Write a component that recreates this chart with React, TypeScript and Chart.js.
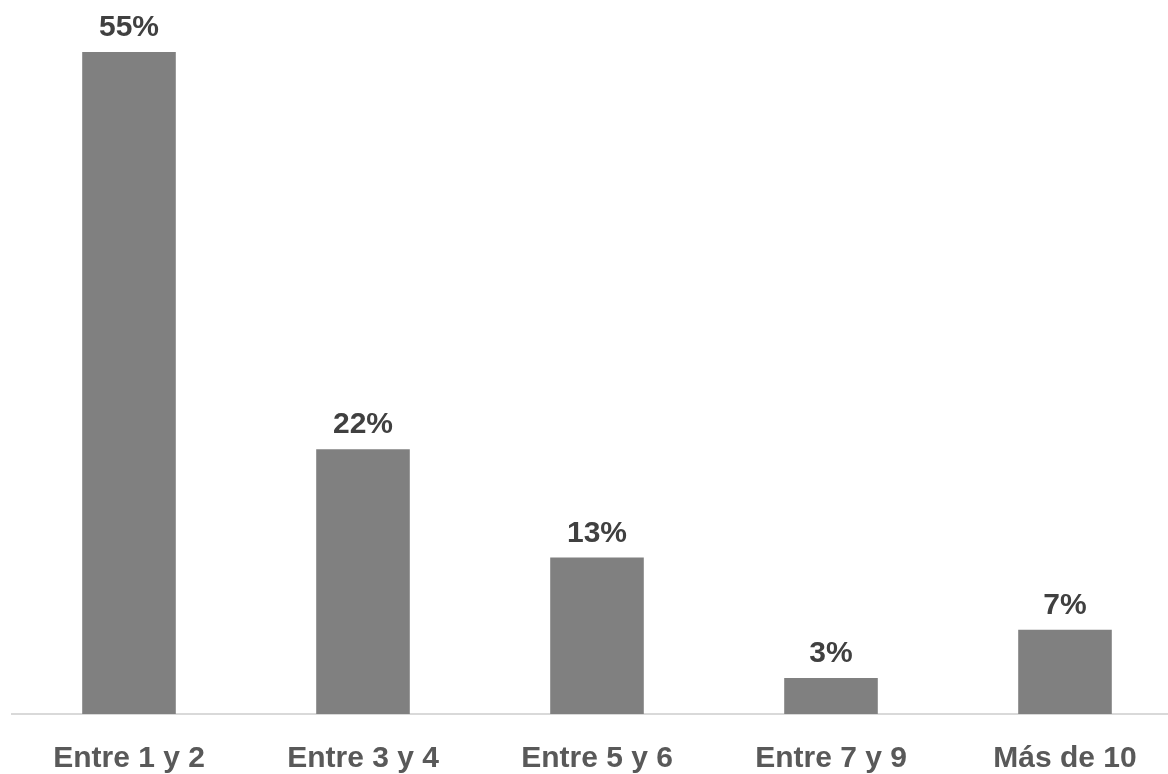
import React, { useEffect, useRef } from "react";
import { Chart, registerables } from "chart.js";

Chart.register(...registerables);

const categories: string[] = ["Entre 1 y 2", "Entre 3 y 4", "Entre 5 y 6", "Entre 7 y 9", "Más de 10"];
const values: number[] = [55, 22, 13, 3, 7];
const valueLabels: string[] = ["55%", "22%", "13%", "3%", "7%"];

const FONT = "'Liberation Sans', Arial, sans-serif";

const labelPlugin = {
  id: "barValueLabels",
  afterDatasetsDraw(chart: any) {
    const ctx = chart.ctx;
    const meta = chart.getDatasetMeta(0);
    ctx.save();
    ctx.font = `bold 30px ${FONT}`;
    ctx.fillStyle = "#404040";
    ctx.textAlign = "center";
    ctx.textBaseline = "alphabetic";
    meta.data.forEach((bar: any, i: number) => {
      ctx.fillText(valueLabels[i], bar.x, bar.y - 16);
    });
    ctx.restore();
  },
};

export default function App() {
  const ref = useRef<HTMLCanvasElement | null>(null);
  useEffect(() => {
    if (!ref.current) return;
    const chart = new Chart(ref.current, {
      type: "bar",
      data: {
        labels: categories,
        datasets: [
          {
            data: values,
            backgroundColor: "#808080",
            categoryPercentage: 1,
            barPercentage: 0.4,
          },
        ],
      },
      options: {
        animation: false,
        responsive: false,
        maintainAspectRatio: false,
        layout: { padding: { top: 16, left: 12, right: 8, bottom: 0 } },
        plugins: { legend: { display: false }, tooltip: { enabled: false } },
        scales: {
          x: {
            grid: { display: false, drawTicks: false },
            border: { display: true, color: "#d9d9d9", width: 2 },
            ticks: {
              color: "#595959",
              font: { family: FONT, size: 30, weight: "bold", lineHeight: 1.2 },
              padding: 27,
            },
          },
          y: {
            display: false,
            min: 0,
            max: 58,
          },
        },
      },
      plugins: [labelPlugin],
    });
    return () => chart.destroy();
  }, []);
  return (
    <div style={{ position: "fixed", left: 0, top: 0, width: 1168, height: 774, overflow: "hidden", background: "#fff" }}>
      <canvas ref={ref} width={1190} height={804} style={{ display: "block" }} />
    </div>
  );
}
